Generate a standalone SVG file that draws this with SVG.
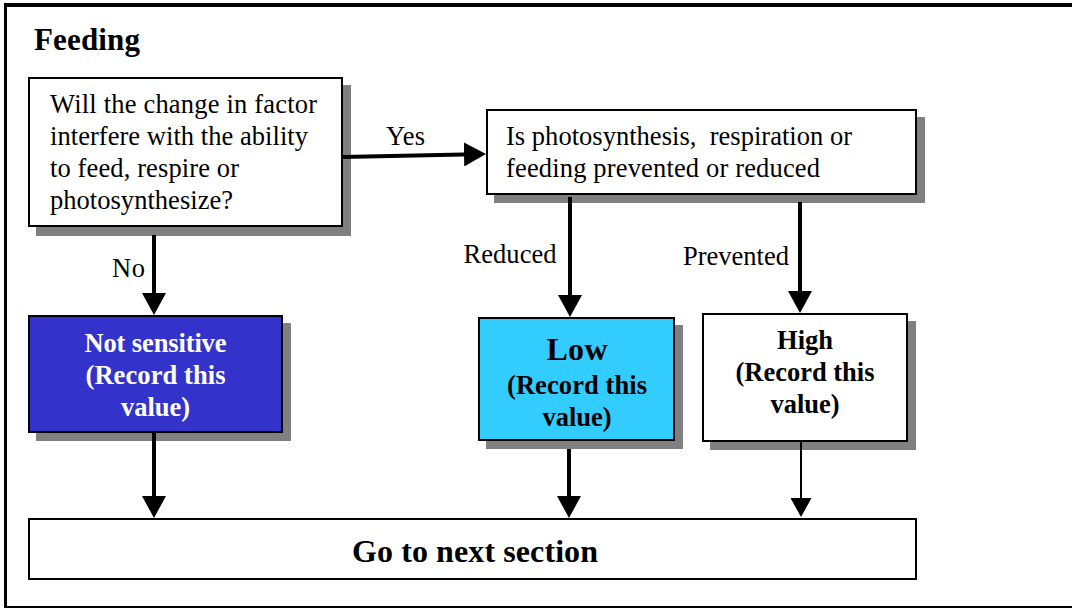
<svg xmlns="http://www.w3.org/2000/svg" width="1072" height="608" viewBox="0 0 1072 608">
  <style>
    .box { stroke: #000; stroke-width: 2; }
    .shadow { fill: #808080; }
    .txt { font-family: 'Liberation Serif', Tinos, 'Times New Roman', Times, 'Nimbus Roman', 'Nimbus Roman No9 L', FreeSerif, 'Noto Serif', 'DejaVu Serif', serif; font-size: 26.5px; fill: #000; }
    .bold { font-family: 'Liberation Serif', Tinos, 'Times New Roman', Times, 'Nimbus Roman', 'Nimbus Roman No9 L', FreeSerif, 'Noto Serif', 'DejaVu Serif', serif; font-weight: bold; font-size: 26.5px; fill: #000; text-anchor: middle; }
    .white { fill: #fff; }
    .conn { stroke: #000; fill: none; }
    .thick { stroke-width: 4; }
    .thin { stroke-width: 2; }
  </style>
  <defs>
    <marker id="headBig" markerUnits="userSpaceOnUse" markerWidth="22" markerHeight="24" viewBox="0 0 22 24" refX="12" refY="12" orient="auto">
      <path d="M0,0 L22,12 L0,24 Z" fill="#000"/>
    </marker>
    <marker id="headSmall" markerUnits="userSpaceOnUse" markerWidth="19" markerHeight="21" viewBox="0 0 19 21" refX="10" refY="10.5" orient="auto">
      <path d="M0,0 L19,10.5 L0,21 Z" fill="#000"/>
    </marker>
  </defs>

  <rect width="1072" height="608" fill="#fff"/>

  <!-- outer frame: open on the right -->
  <g id="frame" stroke="#000" fill="none">
    <line x1="4" y1="5" x2="1072" y2="5" stroke-width="4"/>
    <line x1="5.5" y1="3" x2="5.5" y2="608" stroke-width="3"/>
    <line x1="4" y1="607" x2="1072" y2="607" stroke-width="2"/>
  </g>

  <text id="title" class="bold" x="34" y="50" style="font-size:31px; text-anchor:start" textLength="106">Feeding</text>

  <!-- question 1 -->
  <g id="q-interfere">
    <rect class="shadow" x="36" y="85" width="315" height="151"/>
    <rect class="box" x="29" y="78" width="313" height="148" fill="#fff"/>
    <text class="txt" x="50" y="112.5" textLength="267">Will the change in factor</text>
    <text class="txt" x="50" y="144.5" textLength="258">interfere with the ability</text>
    <text class="txt" x="50" y="176.5" textLength="189">to feed, respire or</text>
    <text class="txt" x="50" y="208.5" textLength="183">photosynthesize?</text>
  </g>

  <!-- question 2 -->
  <g id="q-prevented">
    <rect class="shadow" x="494" y="117" width="431" height="86"/>
    <rect class="box" x="487" y="110" width="429" height="84" fill="#fff"/>
    <text class="txt" x="506" y="145" textLength="346" xml:space="preserve">Is photosynthesis,  respiration or</text>
    <text class="txt" x="506" y="177" textLength="314">feeding prevented or reduced</text>
  </g>

  <!-- outcome: not sensitive -->
  <g id="r-not-sensitive">
    <rect class="shadow" x="36" y="323" width="255" height="118"/>
    <rect class="box" x="29" y="316" width="253" height="116" fill="#3333CC"/>
    <text class="bold white" x="155.5" y="351.5" textLength="142">Not sensitive</text>
    <text class="bold white" x="155.5" y="384" textLength="140">(Record this</text>
    <text class="bold white" x="155.5" y="416" textLength="69">value)</text>
  </g>

  <!-- outcome: low -->
  <g id="r-low">
    <rect class="shadow" x="486" y="325" width="197" height="124"/>
    <rect class="box" x="479" y="318" width="195" height="122" fill="#33CCFF"/>
    <text class="bold" x="577" y="360" style="font-size:32px" textLength="61">Low</text>
    <text class="bold" x="577" y="394" textLength="140">(Record this</text>
    <text class="bold" x="577" y="426" textLength="69">value)</text>
  </g>

  <!-- outcome: high -->
  <g id="r-high">
    <rect class="shadow" x="710" y="321" width="206" height="129"/>
    <rect class="box" x="703" y="314" width="204" height="127" fill="#fff"/>
    <text class="bold" x="805" y="348.5" textLength="56">High</text>
    <text class="bold" x="805" y="381" textLength="139">(Record this</text>
    <text class="bold" x="805" y="413" textLength="69">value)</text>
  </g>

  <!-- next section -->
  <g id="next-section">
    <rect class="box" x="29" y="519" width="887" height="60" fill="#fff"/>
    <text class="bold" x="475" y="561.5" style="font-size:32px" textLength="246">Go to next section</text>
  </g>

  <!-- connectors -->
  <g id="connectors">
    <line class="conn thick" x1="342" y1="157" x2="476" y2="154.2" marker-end="url(#headBig)"/>
    <line class="conn thick" x1="154" y1="235" x2="154" y2="305" marker-end="url(#headBig)"/>
    <line class="conn thick" x1="570" y1="197" x2="570" y2="307" marker-end="url(#headBig)"/>
    <line class="conn thick" x1="800" y1="202" x2="800" y2="303" marker-end="url(#headBig)"/>
    <line class="conn thick" x1="154" y1="433" x2="154" y2="508" marker-end="url(#headBig)"/>
    <line class="conn thick" x1="569" y1="449" x2="569" y2="508" marker-end="url(#headBig)"/>
    <line class="conn thin" x1="801" y1="441" x2="801" y2="508" marker-end="url(#headSmall)"/>
  </g>

  <!-- connector labels -->
  <g id="labels">
    <text class="txt" x="386" y="145" textLength="39">Yes</text>
    <text class="txt" x="112" y="277" textLength="33">No</text>
    <text class="txt" x="463.5" y="262.5" textLength="93">Reduced</text>
    <text class="txt" x="683" y="265" textLength="106">Prevented</text>
  </g>
</svg>
